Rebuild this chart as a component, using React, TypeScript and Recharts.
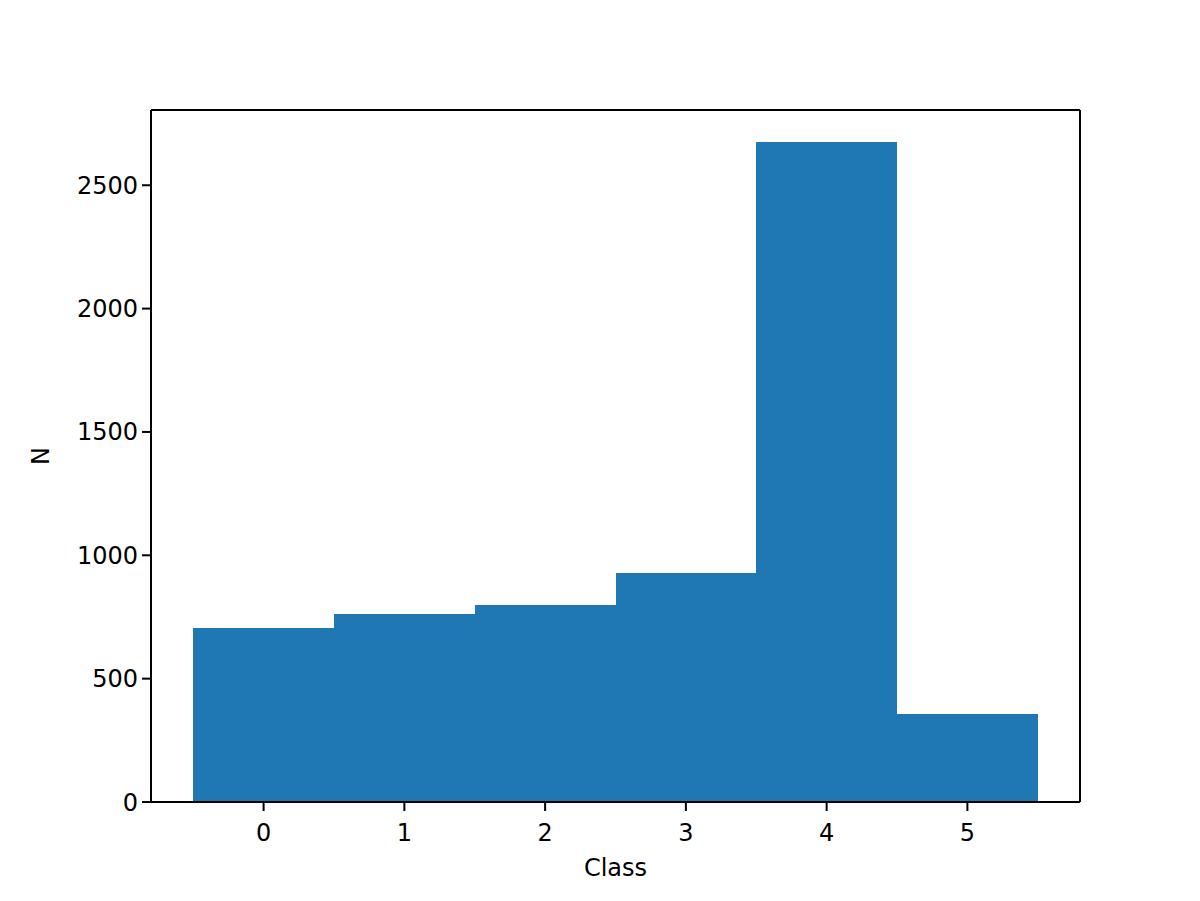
import { BarChart, Bar, XAxis, YAxis, ReferenceLine } from 'recharts'

const CLASSES = [0, 1, 2, 3, 4, 5]
const COUNTS = [707, 762, 800, 929, 2677, 357]
const X_TICKS = [0, 1, 2, 3, 4, 5]
const Y_TICKS = [0, 500, 1000, 1500, 2000, 2500]
const X_DOMAIN = [-0.8, 5.8]
const Y_DOMAIN = [0, 2805]

const data = CLASSES.map((c, i) => ({ cls: c, n: COUNTS[i] }))

const FONT = 'DejaVu Sans, sans-serif'
const tickStyle = { fontSize: 24, fill: '#000', fontFamily: FONT }
const axisLine = { stroke: '#000', strokeWidth: 2 }

function YLabel({ viewBox }: any) {
  const cx = viewBox.x - 50
  const cy = viewBox.y + viewBox.height / 2
  return (
    <text
      x={cx}
      y={cy}
      transform={`rotate(-90, ${cx}, ${cy})`}
      textAnchor="middle"
      dominantBaseline="central"
      fontSize={24}
      fontFamily={FONT}
      fill="#000"
    >
      N
    </text>
  )
}

function XLabel({ viewBox }: any) {
  return (
    <text
      x={viewBox.x + viewBox.width / 2}
      y={viewBox.y + 74}
      textAnchor="middle"
      fontSize={24}
      fontFamily={FONT}
      fill="#000"
    >
      Class
    </text>
  )
}

export default function App() {
  return (
    <div style={{ position: 'absolute', left: 0, top: 0, background: '#fff' }}>
      <BarChart
        width={1200}
        height={901}
        data={data}
        margin={{ top: 110, right: 120, bottom: 19, left: 91 }}
        barCategoryGap={0}
        barGap={0}
      >
        <XAxis
          dataKey="cls"
          type="number"
          domain={X_DOMAIN}
          ticks={X_TICKS}
          allowDataOverflow
          height={80}
          axisLine={axisLine}
          tickLine={axisLine}
          tickSize={9}
          tickMargin={13}
          tick={tickStyle}
          label={<XLabel />}
        />
        <YAxis
          type="number"
          domain={Y_DOMAIN}
          ticks={Y_TICKS}
          allowDataOverflow
          width={60}
          axisLine={axisLine}
          tickLine={axisLine}
          tickSize={9}
          tickMargin={4}
          tick={tickStyle}
          label={<YLabel />}
        />
        <Bar dataKey="n" fill="#1f77b4" shapeRendering="crispEdges" isAnimationActive={false} />
        <ReferenceLine y={Y_DOMAIN[1]} stroke="#000" strokeWidth={2} />
        <ReferenceLine x={X_DOMAIN[1]} stroke="#000" strokeWidth={2} />
      </BarChart>
    </div>
  )
}
